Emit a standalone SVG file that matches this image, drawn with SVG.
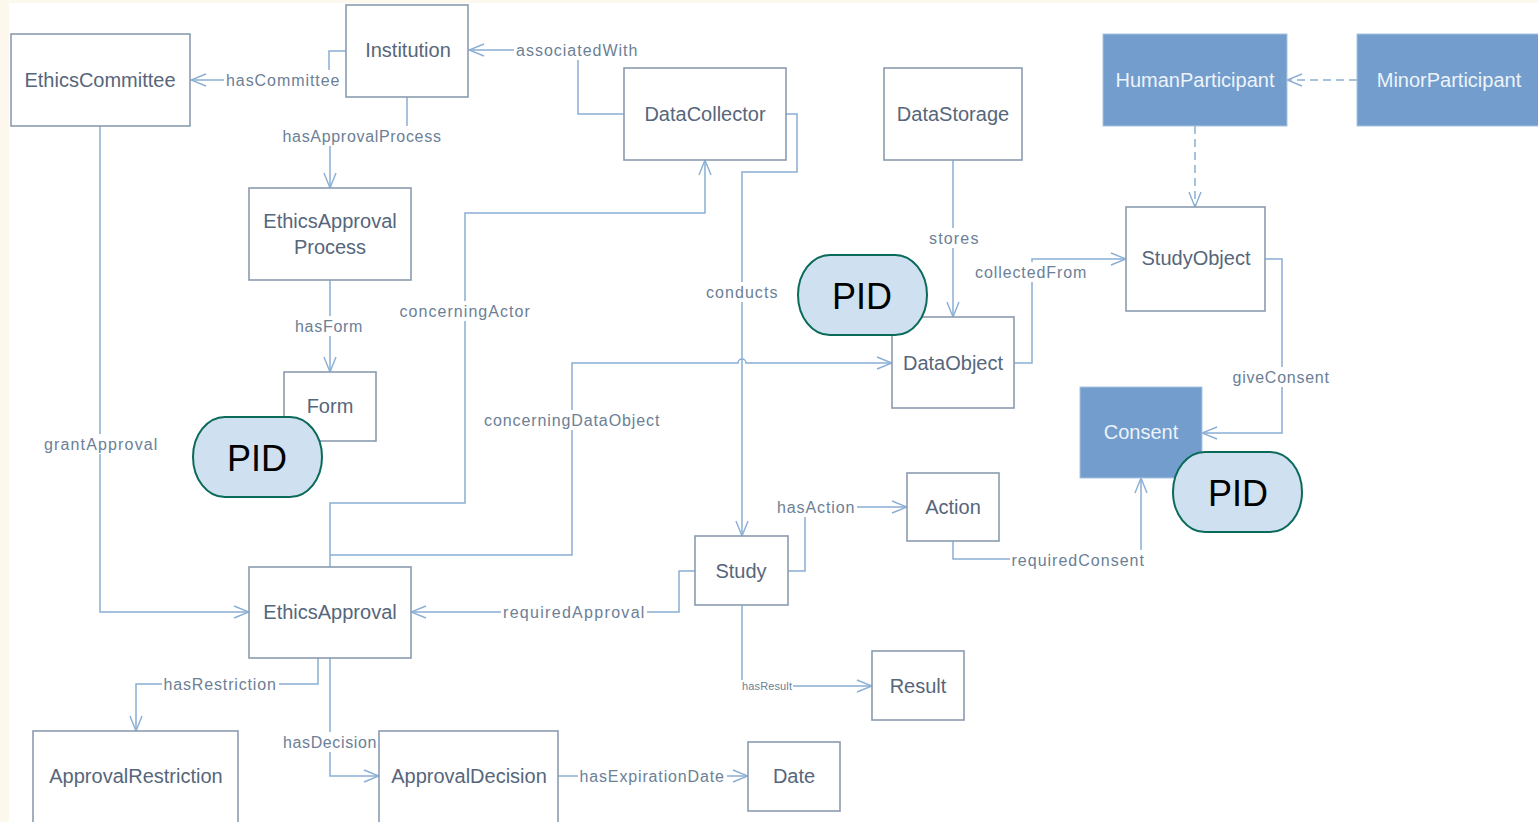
<svg xmlns="http://www.w3.org/2000/svg" width="1538" height="822" viewBox="0 0 1538 822">
<style>
.bx{fill:#ffffff;stroke:#8a9bb0;stroke-width:1.6}
.fb{fill:#729dcc;stroke:#a9c3e0;stroke-width:1}
.bt{font-family:"Liberation Sans",Arial,sans-serif;font-size:20px;fill:#56667b;text-anchor:middle;dominant-baseline:central}
.ft{font-family:"Liberation Sans",Arial,sans-serif;font-size:20px;fill:#eef3fa;text-anchor:middle;dominant-baseline:central}
.ln{fill:none;stroke:#8aaed4;stroke-width:1.5}
.ds{fill:none;stroke:#8aaed4;stroke-width:1.5;stroke-dasharray:8 5}
.lb{fill:#ffffff}
.lt{font-family:"Liberation Sans",Arial,sans-serif;font-size:16px;letter-spacing:0.6px;fill:#6c8096;text-anchor:middle;dominant-baseline:central}
.pid{fill:#cfe0f1;stroke:#0b6b5a;stroke-width:2}
.pt{font-family:"Liberation Sans",Arial,sans-serif;font-size:36px;fill:#000000;text-anchor:middle;dominant-baseline:central}
</style>
<defs>
<marker id="ar" viewBox="0 0 18 14" refX="17" refY="7" markerWidth="18" markerHeight="14" markerUnits="userSpaceOnUse" orient="auto">
<path d="M2,1 L17,7 L2,13" fill="none" stroke="#8aaed4" stroke-width="1.4"/>
</marker>
</defs>
<rect x="0" y="0" width="1538" height="822" fill="#fdf8ee"/>
<rect x="9" y="3" width="1529" height="819" fill="#ffffff"/>

<g id="connectors">
<path class="ln" marker-end="url(#ar)" d="M346,51 H329 V80 H191"/>
<path class="ln" marker-end="url(#ar)" d="M624,114 H578 V50 H469"/>
<path class="ln" marker-end="url(#ar)" d="M407,97 V136 H330 V188"/>
<path class="ln" marker-end="url(#ar)" d="M330,280 V372"/>
<path class="ln" marker-end="url(#ar)" d="M100,126 V612 H249"/>
<path class="ln" marker-end="url(#ar)" d="M330,567 V503 H465 V213 H705 V160"/>
<path class="ln" marker-end="url(#ar)" d="M330,555 H572 V363 H738 A4,4 0 0 1 746,363 H892"/>
<path class="ln" marker-end="url(#ar)" d="M786,114 H797 V172 H742 V536"/>
<path class="ln" marker-end="url(#ar)" d="M953,160 V317"/>
<path class="ln" marker-end="url(#ar)" d="M1014,363 H1032 V259 H1126"/>
<path class="ds" marker-end="url(#ar)" d="M1195,126 V207"/>
<path class="ds" marker-end="url(#ar)" d="M1357,80 H1287"/>
<path class="ln" marker-end="url(#ar)" d="M1265,259 H1282 V433 H1202"/>
<path class="ln" marker-end="url(#ar)" d="M788,571 H805 V507 H907"/>
<path class="ln" marker-end="url(#ar)" d="M953,541 V559 H1141 V478"/>
<path class="ln" marker-end="url(#ar)" d="M695,571 H679 V612 H411"/>
<path class="ln" marker-end="url(#ar)" d="M742,605 V686 H872"/>
<path class="ln" marker-end="url(#ar)" d="M318,658 V684 H136 V731"/>
<path class="ln" marker-end="url(#ar)" d="M330,658 V776 H379"/>
<path class="ln" marker-end="url(#ar)" d="M558,776 H748"/>

<rect class="lb" x="224" y="70" width="118" height="20"/>
<text class="lt" x="283" y="80" textLength="114">hasCommittee</text>
<rect class="lb" x="514" y="40" width="126" height="20"/>
<text class="lt" x="577" y="50" textLength="122">associatedWith</text>
<rect class="lb" x="281" y="126" width="163" height="20"/>
<text class="lt" x="362" y="136" textLength="159">hasApprovalProcess</text>
<rect class="lb" x="293" y="316" width="72" height="20"/>
<text class="lt" x="329" y="326" textLength="68">hasForm</text>
<rect class="lb" x="42" y="434" width="118" height="20"/>
<text class="lt" x="101" y="444" textLength="114">grantApproval</text>
<rect class="lb" x="397" y="301" width="135" height="20"/>
<text class="lt" x="465" y="311" textLength="131">concerningActor</text>
<rect class="lb" x="482" y="410" width="180" height="20"/>
<text class="lt" x="572" y="420" textLength="176">concerningDataObject</text>
<rect class="lb" x="704" y="282" width="76" height="20"/>
<text class="lt" x="742" y="292" textLength="72">conducts</text>
<rect class="lb" x="927" y="228" width="54" height="20"/>
<text class="lt" x="954" y="238" textLength="50">stores</text>
<rect class="lb" x="973" y="262" width="116" height="20"/>
<text class="lt" x="1031" y="272" textLength="112">collectedFrom</text>
<rect class="lb" x="1231" y="367" width="101" height="20"/>
<text class="lt" x="1281" y="377" textLength="97">giveConsent</text>
<rect class="lb" x="775" y="497" width="82" height="20"/>
<text class="lt" x="816" y="507" textLength="78">hasAction</text>
<rect class="lb" x="1010" y="550" width="137" height="20"/>
<text class="lt" x="1078" y="560" textLength="133">requiredConsent</text>
<rect class="lb" x="501" y="602" width="146" height="20"/>
<text class="lt" x="574" y="612" textLength="142">requiredApproval</text>
<rect class="lb" x="741" y="680" width="52" height="12"/>
<text class="lt" x="767" y="686" style="font-size:11px;letter-spacing:0" textLength="50">hasResult</text>
<rect class="lb" x="162" y="674" width="117" height="20"/>
<text class="lt" x="220" y="684" textLength="113">hasRestriction</text>
<rect class="lb" x="281" y="732" width="98" height="20"/>
<text class="lt" x="330" y="742" textLength="94">hasDecision</text>
<rect class="lb" x="578" y="766" width="149" height="20"/>
<text class="lt" x="652" y="776" textLength="145">hasExpirationDate</text>
</g>

<g id="EthicsCommittee"><rect class="bx" x="11" y="34" width="179" height="92"/><text class="bt" x="100" y="80">EthicsCommittee</text></g>
<g id="Institution"><rect class="bx" x="346" y="5" width="122" height="92"/><text class="bt" x="408" y="50">Institution</text></g>
<g id="DataCollector"><rect class="bx" x="624" y="68" width="162" height="92"/><text class="bt" x="705" y="114">DataCollector</text></g>
<g id="DataStorage"><rect class="bx" x="884" y="68" width="138" height="92"/><text class="bt" x="953" y="114">DataStorage</text></g>
<g id="HumanParticipant"><rect class="fb" x="1103" y="34" width="184" height="92"/><text class="ft" x="1195" y="80">HumanParticipant</text></g>
<g id="MinorParticipant"><rect class="fb" x="1357" y="34" width="190" height="92"/><text class="ft" x="1449" y="80">MinorParticipant</text></g>
<g id="StudyObject"><rect class="bx" x="1126" y="207" width="139" height="104"/><text class="bt" x="1196" y="258">StudyObject</text></g>
<g id="EthicsApprovalProcess"><rect class="bx" x="249" y="188" width="162" height="92"/><text class="bt" x="330" y="221">EthicsApproval</text><text class="bt" x="330" y="247">Process</text></g>
<g id="Form"><rect class="bx" x="284" y="372" width="92" height="69"/><text class="bt" x="330" y="406">Form</text></g>
<g id="DataObject"><rect class="bx" x="892" y="317" width="122" height="91"/><text class="bt" x="953" y="363">DataObject</text></g>
<g id="Consent"><rect class="fb" x="1080" y="387" width="122" height="91"/><text class="ft" x="1141" y="432">Consent</text></g>
<g id="Action"><rect class="bx" x="907" y="473" width="92" height="68"/><text class="bt" x="953" y="507">Action</text></g>
<g id="Study"><rect class="bx" x="695" y="536" width="93" height="69"/><text class="bt" x="741" y="571">Study</text></g>
<g id="EthicsApproval"><rect class="bx" x="249" y="567" width="162" height="91"/><text class="bt" x="330" y="612">EthicsApproval</text></g>
<g id="Result"><rect class="bx" x="872" y="651" width="92" height="69"/><text class="bt" x="918" y="686">Result</text></g>
<g id="ApprovalRestriction"><rect class="bx" x="33" y="731" width="205" height="100"/><text class="bt" x="136" y="776">ApprovalRestriction</text></g>
<g id="ApprovalDecision"><rect class="bx" x="379" y="731" width="179" height="100"/><text class="bt" x="469" y="776">ApprovalDecision</text></g>
<g id="Date"><rect class="bx" x="748" y="742" width="92" height="69"/><text class="bt" x="794" y="776">Date</text></g>

<g id="PID1"><rect class="pid" x="798" y="255" width="129" height="80" rx="32" ry="40"/><text class="pt" x="862" y="296">PID</text></g>
<g id="PID2"><rect class="pid" x="193" y="417" width="129" height="80" rx="32" ry="40"/><text class="pt" x="257" y="458">PID</text></g>
<g id="PID3"><rect class="pid" x="1173" y="452" width="129" height="80" rx="32" ry="40"/><text class="pt" x="1238" y="493">PID</text></g>
</svg>
